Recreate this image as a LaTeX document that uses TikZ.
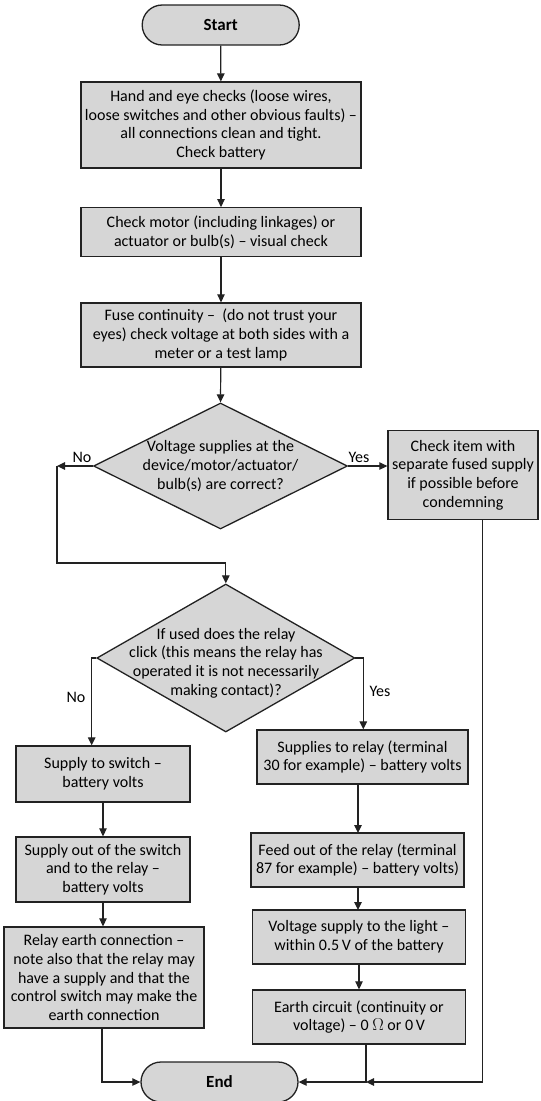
\documentclass[tikz,border=0pt]{standalone}
\usepackage{fontspec}
\setmainfont{Carlito}
\usetikzlibrary{shapes.geometric,shapes.misc,arrows.meta}
\definecolor{linecol}{HTML}{222222}
\definecolor{boxfill}{HTML}{D6D6D6}
\newcommand\bodyfont{\fontsize{16bp}{18.7bp}\selectfont}
\newcommand\termfont{\fontsize{17bp}{20bp}\selectfont\bfseries}
\begin{document}
\begin{tikzpicture}[x=1bp,y=-1bp,
  box/.style={draw=linecol, fill=boxfill, line width=1.3bp, inner sep=1bp, align=center, font=\bodyfont},
  term/.style={rounded rectangle, draw=linecol, fill=boxfill, line width=1.3bp, minimum width=157bp, minimum height=40bp, inner sep=0bp, font=\termfont},
  dec/.style={diamond, draw=linecol, fill=boxfill, line width=1.3bp, inner sep=0bp},
  dectext/.style={align=center, font=\bodyfont},
  lab/.style={font=\bodyfont, inner sep=0bp},
  arr/.style={draw=linecol, line width=1.2bp, -{Triangle[length=8bp,width=7.5bp]}},
  ln/.style={draw=linecol, line width=1.2bp}
]
\useasboundingbox (0,0) rectangle (541,1101);

\node[term] (start) at (220.7,25) {Start};
\node[box, minimum width=280bp, minimum height=86bp] (hand) at (221,125)
  {Hand and eye checks (loose wires,\\ loose switches and other obvious faults) –\\ all connections clean and tight.\\ Check battery};
\node[box, minimum width=280bp, minimum height=48.5bp] (motor) at (221,232)
  {Check motor (including linkages) or\\ actuator or bulb(s) – visual check};
\node[box, minimum width=280bp, minimum height=64bp] (fuse) at (221,335)
  {Fuse continuity –\ \ (do not trust your\\ eyes) check voltage at both sides with a\\ meter or a test lamp};
\node[dec, minimum width=254bp, minimum height=126bp,
  label={[dectext]center:Voltage supplies at the\\ device/motor/actuator/\\ bulb(s) are correct?}] (d1) at (220.5,466) {};
\node[box, minimum width=150bp, minimum height=89bp] (item) at (463,475)
  {Check item with\\ separate fused supply\\ if possible before\\ condemning};
\node[dec, minimum width=258bp, minimum height=148bp] (d2) at (225.8,658) {};
\node[dectext] (d2t) at (226,663) {If used does the relay\\ click (this means the relay has\\ operated it is not necessarily\\ making contact)?};
\node[box, minimum width=174bp, minimum height=56bp] (sw1) at (103,774)
  {Supply to switch –\\ battery volts};
\node[box, minimum width=174bp, minimum height=65bp] (sw2) at (103,869.5)
  {Supply out of the switch\\ and to the relay –\\ battery volts};
\node[box, minimum width=200bp, minimum height=101bp] (earth1) at (104,977.5)
  {Relay earth connection –\\ note also that the relay may\\ have a supply and that the\\ control switch may make the\\ earth connection};
\node[box, minimum width=211bp, minimum height=54bp] (r1) at (362.5,757)
  {Supplies to relay (terminal\\ 30 for example) – battery volts};
\node[box, minimum width=213bp, minimum height=54bp] (r2) at (357.5,860)
  {Feed out of the relay (terminal\\ 87 for example) – battery volts)};
\node[box, minimum width=212.6bp, minimum height=54bp] (r3) at (359,937)
  {Voltage supply to the light –\\ within 0.5\,V of the battery};
\node[box, minimum width=212.6bp, minimum height=54bp] (r4) at (359,1017)
  {Earth circuit (continuity or\\ voltage) – 0 $\Omega$ or 0\,V};
\node[term] (end) at (219.5,1082) {End};

\node[lab] (no1) at (82,457) {No};
\node[lab] (yes1) at (359,457) {Yes};
\node[lab] (no2) at (76,697) {No};
\node[lab] (yes2) at (380,691) {Yes};

\coordinate (c1) at (57,466);
\coordinate (c2) at (225.8,563);
\coordinate (n2) at (91.7,658);
\coordinate (y2) at (363.3,658);
\coordinate (rc) at (482.7,1082);
\coordinate (j) at (366,1082);
\coordinate (le) at (102,1082);

\draw[arr] (start) -- (hand);
\draw[arr] (hand) -- (motor);
\draw[arr] (motor) -- (fuse);
\draw[arr] (fuse) -- (d1.north);
\draw[arr] (d1.west) -- (c1);
\draw[arr] (c1) |- (c2) -- (d2.north);
\draw[arr] (d1.east) -- (item.west |- d1.east);
\draw[arr] (d2.west) -- (n2) -- (n2 |- sw1.north);
\draw[arr] (d2.east) -- (y2) -- (y2 |- r1.north);
\draw[arr] (sw1) -- (sw2);
\draw[arr] (sw2) -- (sw2 |- earth1.north);
\draw[arr] (358,784) -- (358,833);
\draw[arr] (358,887) -- (358,910);
\draw[arr] (r3) -- (r4);
\draw[arr] (le |- earth1.south) -- (le) -- (end.west);
\draw[arr] (rc |- item.south) -- (rc) -- (j);
\draw[arr] (j |- r4.south) -- (j) -- (end.east);
\end{tikzpicture}
\end{document}
